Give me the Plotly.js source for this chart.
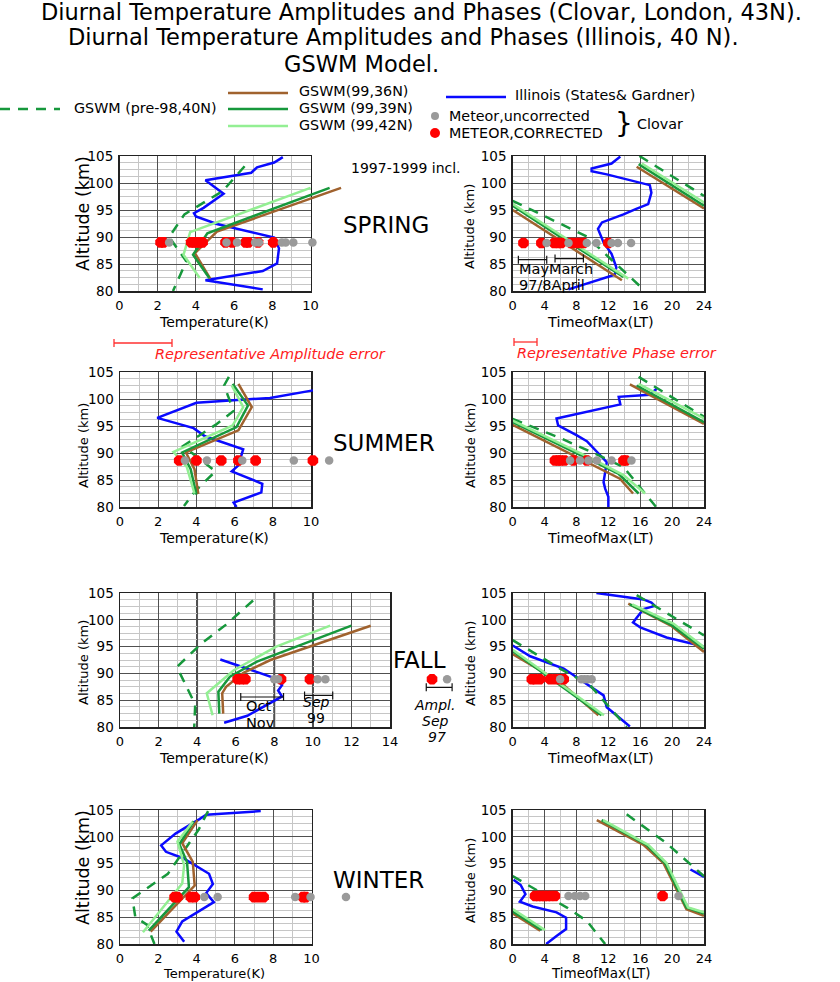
<!DOCTYPE html>
<html>
<head>
<meta charset="utf-8">
<script src="https://cdn.plot.ly/plotly-3.0.1.min.js"></script>
<style>
  html, body { margin: 0; padding: 0; background: #fff; }
  #chart { width: 840px; height: 982px; }
</style>
</head>
<body>
<div id="chart"></div>
<script>
// ---------- data: amplitude (K) / phase (h LT) versus altitude (km) ----------

// SPRING amplitude
const sprAmpBlueT = [8.55, 8.1, 7.2, 6.9, 4.5, 5.0, 5.45, 4.4, 3.9, 4.0, 5.1, 8.1, 8.35, 8.25, 7.5, 4.5, 7.5];
const sprAmpBlueZ = [104.8, 103.8, 102.9, 101.9, 100.5, 99.1, 98.0, 95.4, 94.4, 93.8, 92.4, 89.9, 87.9, 85.1, 83.7, 82.0, 80.3];
const sprAmpDashT = [6.55, 5.4, 3.4, 2.6, 3.5, 2.8];
const sprAmpDashZ = [103.1, 98.5, 94.2, 90.0, 85.5, 80.0];
const sprAmpBrownT = [11.6, 5.1, 3.95, 4.75];
const sprAmpBrownZ = [99.1, 91.0, 87.0, 82.3];
const sprAmpDkT = [11.0, 4.6, 3.85, 4.7];
const sprAmpDkZ = [99.1, 90.7, 86.7, 82.4];
const sprAmpLtT = [10.0, 3.7, 3.35, 4.2];
const sprAmpLtZ = [99.1, 90.9, 86.7, 82.4];
const sprAmpAlt = 89.0;
const sprAmpRed = [2.15, 2.3, 3.75, 3.9, 4.05, 4.2, 4.35, 5.55, 5.9, 6.6, 6.75, 7.25, 8.05];
const sprAmpGray = [2.6, 5.6, 6.15, 7.1, 7.3, 8.5, 8.7, 9.1, 10.1];

// SPRING phase
const sprPhBlueT = [13.5, 12.4, 9.9, 9.9, 11.8, 17.2, 17.4, 17.0, 15.5, 13.9, 11.2, 10.7, 11.4, 12.4, 13.0, 12.8, 7.0];
const sprPhBlueZ = [104.9, 103.6, 102.7, 102.2, 101.6, 99.6, 98.2, 96.1, 95.2, 94.2, 92.7, 91.5, 89.0, 86.9, 84.4, 83.0, 80.3];
const sprPhDashT = [0, 9.3, 11.8, 16.4, null, 15.9, 24];
const sprPhDashZ = [96.7, 90.1, 86.6, 80.3, null, 105, 97.6];
const sprPhBrownT = [0, 4.8, 13.7, null, 15.55, 24];
const sprPhBrownZ = [95.0, 90.5, 82.0, null, 103.0, 95.3];
const sprPhDkT = [0, 5.7, 13.9, null, 15.8, 24];
const sprPhDkZ = [95.8, 90.3, 82.6, null, 103.5, 95.8];
const sprPhLtT = [0, 5.9, 14.5, null, 16.2, 24];
const sprPhLtZ = [96.1, 90.5, 82.3, null, 103.6, 96.4];
const sprPhAlt = 88.9;
const sprPhRed = [1.35, 3.6, 5.2, 5.7, 6.1, 7.3, 7.9, 8.4, 8.9, 12.0];
const sprPhGray = [4.25, 7.0, 9.3, 10.5, 12.4, 13.2, 14.85];
const sprPhRangeMid = [2.49, 7.09];      // May, March
const sprPhRangeHalf = [1.78, 1.78];
const sprPhRangeZ = [85.8, 86.0];

// SUMMER amplitude
const sumAmpBlueT = [10.1, 7.85, 4.0, 1.95, 3.85, 4.45, 6.45, 6.2, 5.85, 7.45, 7.4, 5.95, 6.1];
const sumAmpBlueZ = [101.6, 100.2, 99.3, 96.5, 94.6, 93.1, 90.7, 87.7, 86.6, 84.3, 82.7, 80.8, 80.0];
const sumAmpDashT = [5.7, 5.45, 5.95, 5.0, 3.3, 4.0, 5.0, 3.95, 3.35];
const sumAmpDashZ = [104.1, 102.5, 97.8, 95.2, 91.3, 89.3, 86.6, 83.0, 80.2];
const sumAmpBrownT = [6.2, 6.9, 6.2, 3.45, 3.9, 4.1];
const sumAmpBrownZ = [102.8, 98.5, 94.2, 90.1, 87.0, 82.4];
const sumAmpDkT = [5.9, 6.7, 6.1, 3.25, 3.7, 4.0];
const sumAmpDkZ = [102.8, 98.8, 94.8, 90.1, 87.0, 82.3];
const sumAmpLtT = [5.85, 6.45, 5.9, 2.8, 3.5, 3.9];
const sumAmpLtZ = [102.5, 98.5, 95.1, 90.2, 87.4, 82.5];
const sumAmpAlt = 88.6;
const sumAmpRed = [3.1, 4.0, 5.3, 6.2, 7.1, 10.1];
const sumAmpGray = [3.4, 4.55, 6.4, 9.1, 10.95];

// SUMMER phase
const sumPhBlueT = [18.05, 17.2, 13.3, 13.5, 5.5, 5.7, 8.0, 9.3, 11.8, 11.4, 11.6, 12.0, 12.0];
const sumPhBlueZ = [101.9, 100.8, 100.4, 99.0, 96.4, 95.1, 93.3, 92.2, 88.3, 84.6, 83.4, 81.9, 80.0];
const sumPhDashT = [0, 5.9, 9.7, 13.9, 18.0, null, 15.8, 24];
const sumPhDashZ = [96.3, 92.8, 90.3, 87.4, 80.0, null, 104.1, 96.7];
const sumPhBrownT = [0, 9.7, 13.45, 15.1, null, 14.7, 24];
const sumPhBrownZ = [95.2, 88.0, 85.25, 82.5, null, 102.7, 95.4];
const sumPhDkT = [0, 9.9, 13.25, 15.8, null, 15.55, 24];
const sumPhDkZ = [95.7, 88.5, 86.2, 82.5, null, 102.5, 95.7];
const sumPhLtT = [0, 10.1, 13.9, 16.6, null, 15.8, 24];
const sumPhLtZ = [96.0, 88.8, 85.9, 82.5, null, 102.8, 96.4];
const sumPhAlt = 88.6;
const sumPhRed = [5.3, 5.7, 6.0, 6.5, 7.6, 9.3, 13.9, 14.2];
const sumPhGray = [7.2, 8.45, 9.5, 10.55, 12.4, 14.9];

// FALL amplitude
const falAmpBlueT = [5.2, 8.05, 8.4, 8.2, 8.4, 6.6, 5.4];
const falAmpBlueZ = [92.6, 89.1, 87.8, 86.8, 85.7, 82.1, 80.8];
const falAmpDashT = [6.9, 5.5, 4.2, 2.95, 3.9, 3.85];
const falAmpDashZ = [103.6, 99.1, 95.5, 91.2, 84.2, 80.0];
const falAmpBrownT = [13.0, 9.9, 7.8, 6.4, 5.5, 5.3, 5.35];
const falAmpBrownZ = [98.9, 95.0, 92.5, 90.1, 87.5, 86.3, 82.5];
const falAmpDkT = [12.0, 9.2, 7.1, 5.7, 5.1, 5.15];
const falAmpDkZ = [98.9, 95.0, 92.2, 89.4, 86.6, 82.5];
const falAmpLtT = [10.9, 8.1, 5.9, 4.5, 4.8];
const falAmpLtZ = [98.9, 95.0, 90.6, 86.3, 82.2];
const falAmpAlt = 88.9;
const falAmpRed = [6.1, 6.3, 6.5, 8.35, 9.85];
const falAmpGray = [8.0, 8.2, 10.25, 10.65];
const falAmpRangeMid = [7.37, 10.3];     // Oct-Nov, Sep 99
const falAmpRangeHalf = [1.11, 0.73];
const falAmpRangeZ = [85.6, 85.9];
const falKeyRed = [16.18];               // Ampl. Sep 97 key
const falKeyGray = [16.96];
const falKeyMid = [16.55];
const falKeyHalf = [0.67];
const falKeyZ = [87.4];
const falDarkGrid = [4, 8, 10];

// FALL phase
const falPhBlueT = [10.5, 16.4, 17.4, 17.85, 16.4, 15.55, 15.1, 16.0, 19.3, 24, null, 0, 2.2, 6.4, 8.9, 11.4, 11.8, 14.7];
const falPhBlueZ = [105, 103.8, 103.2, 102.6, 102.0, 100.4, 99.5, 98.6, 96.7, 95.0, null, 95.2, 93.2, 90.9, 88.4, 85.9, 83.7, 80.1];
const falPhDashT = [0, 5.95, 9.7, 14.3, null, 15.55, 24];
const falPhDashZ = [96.2, 90.9, 87.8, 80.0, null, 104.6, 97.1];
const falPhBrownT = [0, 5.95, 10.75, null, 14.5, 19.95, 24];
const falPhBrownZ = [93.6, 88.4, 82.2, null, 103.0, 98.8, 94.0];
const falPhDkT = [0, 11.15, null, 14.7, 19.95, 24];
const falPhDkZ = [94.2, 82.2, null, 102.9, 99.0, 94.6];
const falPhLtT = [0, 11.45, null, 15.0, 20.15, 24];
const falPhLtZ = [94.4, 82.2, null, 102.9, 99.3, 94.9];
const falPhAlt = 88.9;
const falPhRed = [2.4, 2.8, 3.4, 4.7, 5.3, 5.9, 6.4];
const falPhGray = [5.95, 8.6, 9.0, 9.4, 9.9];

// WINTER amplitude
const winAmpBlueT = [7.35, 4.5, 4.15, 2.9, 2.15, 2.4, 3.3, 4.65, 4.85, 4.5, 4.9, 4.2, 3.25, 2.95, 3.35];
const winAmpBlueZ = [104.8, 104.1, 103.3, 100.6, 98.4, 97.2, 96.0, 93.1, 91.2, 89.5, 87.8, 86.3, 84.2, 82.3, 80.4];
const winAmpDashT = [4.6, 4.1, 2.5, 0.65, 0.8, 1.4, 1.8];
const winAmpDashZ = [104.8, 101.3, 93.1, 88.5, 85.0, 83.6, 80.0];
const winAmpBrownT = [4.05, 3.25, 3.8, 3.9, 1.6];
const winAmpBrownZ = [103.1, 98.8, 95.3, 90.9, 82.3];
const winAmpDkT = [3.85, 3.1, 3.5, 3.6, 1.5];
const winAmpDkZ = [102.9, 98.6, 95.3, 90.6, 82.5];
const winAmpLtT = [3.8, 3.0, 3.35, 3.25, 1.2];
const winAmpLtZ = [102.8, 99.1, 94.7, 91.3, 82.2];
const winAmpAlt = 88.75;
const winAmpRed = [2.85, 3.0, 3.7, 3.9, 7.0, 7.25, 7.5, 9.55, 9.7];
const winAmpGray = [4.4, 5.1, 9.15, 9.95, 11.8];

// WINTER phase
const winPhBlueT = [22.3, 24, null, 0.1, 1.0, 1.6, 0.9, 2.5, 5.5, 6.7, 6.7, 5.5, 4.2];
const winPhBlueZ = [93.9, 92.5, null, 92.0, 91.0, 89.3, 87.9, 87.0, 85.9, 84.9, 82.8, 81.5, 80.0];
const winPhDashT = [14.3, 19.3, 24, null, 0, 6.8, 9.3, 11.6];
const winPhDashZ = [104.2, 98.8, 92.65, null, 92.65, 86.8, 84.3, 80.0];
const winPhBrownT = [0, 3.45, null, 10.55, 16.4, 18.9, 21.8, 24];
const winPhBrownZ = [85.7, 82.5, null, 103.1, 98.5, 95.1, 86.5, 85.25];
const winPhDkT = [0, 3.65, null, 11.15, 16.8, 19.1, 21.8, 24];
const winPhDkZ = [86.05, 82.6, null, 103.1, 98.5, 95.1, 86.8, 85.7];
const winPhLtT = [0, 4.05, null, 11.35, 17.0, 19.3, 22.0, 24];
const winPhLtZ = [86.5, 82.6, null, 103.1, 98.5, 95.1, 86.8, 85.9];
const winPhAlt = 88.95;
const winPhRed = [2.8, 3.2, 3.6, 4.0, 4.4, 4.8, 5.3, 18.8];
const winPhGray = [7.0, 7.8, 8.45, 9.1, 20.8];

// ---------- styling ----------
const W = 840, H = 982;
const FONT = 'DejaVu Sans, Verdana, sans-serif';
const C = {
    blue: '#0a0aff',
    brown: '#a0622e',
    dk: '#17983c',
    lt: '#93ef93',
    red: '#ff0000',
    gray: '#9a9a9a',
    major: '#505050',
    minor: '#c6c6c6'
};

const fx = px => px / W;
const fy = py => 1 - py / H;

// panel frames in pixels: rows (top, bottom), amplitude / phase columns
const rows = [[156, 291], [372, 507], [593, 727], [810, 944]];
const ampCols = [[119.5, 310.5, 10, 12.5], [120, 311, 10, 11.5], [120, 390, 14, 18], [120, 311.5, 10, 12.5]];
const phCol = [512.7, 704];

const layout = {
    width: W, height: H,
    margin: { l: 0, r: 0, t: 0, b: 0 },
    paper_bgcolor: '#ffffff',
    plot_bgcolor: 'rgba(0,0,0,0)',
    showlegend: false,
    font: { family: FONT, size: 13, color: '#000' },
    annotations: [],
    shapes: []
};

function visX(dom, range, dtick, minor, anchor) {
    return {
        domain: dom, range: range, anchor: anchor, tick0: 0, dtick: dtick,
        showline: true, mirror: true, linecolor: '#222', linewidth: 1.5,
        showgrid: true, gridcolor: C.major, gridwidth: 1, zeroline: false,
        ticks: '', ticklabelstandoff: 2, tickfont: { family: FONT, size: 13, color: '#000' },
        minor: { dtick: minor, tick0: 0, showgrid: true, gridcolor: C.minor, gridwidth: 1 },
        fixedrange: true
    };
}
function visY(dom, anchor) {
    return {
        domain: dom, range: [80, 105], anchor: anchor, tick0: 80, dtick: 5,
        showline: true, mirror: true, linecolor: '#222', linewidth: 1.5,
        showgrid: true, gridcolor: C.major, gridwidth: 1, zeroline: false,
        ticks: '', ticklabelstandoff: 2, tickfont: { family: FONT, size: 13.5, color: '#000' },
        minor: { dtick: 1.25, tick0: 80, showgrid: true, gridcolor: C.minor, gridwidth: 1 },
        fixedrange: true
    };
}
function hidden(dom, range, anchor) {
    return { domain: dom, range: range, anchor: anchor, visible: false, fixedrange: true };
}

const traces = [];

function lineTrace(x, y, xa, ya, color, dash) {
    return {
        type: 'scatter', mode: 'lines', x: x, y: y, xaxis: xa, yaxis: ya,
        line: { color: color, width: 2.5, dash: dash || 'solid' },
        connectgaps: false, hoverinfo: 'skip', cliponaxis: true
    };
}
function dotTrace(x, alt, xa, ya, color, size, symbol) {
    return {
        type: 'scatter', mode: 'markers', x: x, y: x.map(() => alt), xaxis: xa, yaxis: ya,
        marker: { color: color, size: size, symbol: symbol, line: { width: 0 } },
        cliponaxis: false, hoverinfo: 'skip'
    };
}
function rangeTrace(mid, half, z, xa, ya) {
    return {
        type: 'scatter', mode: 'markers', x: mid, y: z, xaxis: xa, yaxis: ya,
        marker: { size: 1, color: 'rgba(0,0,0,0)' },
        error_x: { type: 'data', array: half, symmetric: true, color: '#111', thickness: 1.2, width: 4 },
        cliponaxis: false, hoverinfo: 'skip'
    };
}
function addPanel(xa, ya, s) {
    traces.push(lineTrace(s.blue[0], s.blue[1], xa, ya, C.blue));
    traces.push(lineTrace(s.dash[0], s.dash[1], xa, ya, C.dk, '10px,8px'));
    traces.push(lineTrace(s.brown[0], s.brown[1], xa, ya, C.brown));
    traces.push(lineTrace(s.dk[0], s.dk[1], xa, ya, C.dk));
    traces.push(lineTrace(s.lt[0], s.lt[1], xa, ya, C.lt));
    traces.push(dotTrace(s.red, s.alt, xa, ya, C.red, 11.5, 'octagon'));
    traces.push(dotTrace(s.gray, s.alt, xa, ya, C.gray, 8.5, 'circle'));
}

// axis ids: amplitude panels use a visible frame (n) plus a wider hidden data axis (n+1)
const ampIds = [[1, 2], [4, 5], [7, 8], [10, 11]];
const phIds = [3, 6, 9, 12];
const axName = (k, n) => k + 'axis' + (n === 1 ? '' : n);
const axRef = (k, n) => k + (n === 1 ? '' : n);

rows.forEach((r, i) => {
    const yDom = [fy(r[1]), fy(r[0])];
    const [x0, x1, visMax, dataMax] = ampCols[i];
    const [v, d] = ampIds[i];
    layout[axName('x', v)] = visX([fx(x0), fx(x1)], [0, visMax], 2, 1, axRef('y', v));
    layout[axName('y', v)] = visY(yDom, axRef('x', v));
    const dataRight = x0 + (x1 - x0) / visMax * dataMax;
    layout[axName('x', d)] = hidden([fx(x0), fx(dataRight)], [0, dataMax], axRef('y', d));
    layout[axName('y', d)] = hidden(yDom, [80, 105], axRef('x', d));
    // empty trace so the frame subplot exists
    traces.push({ type: 'scatter', mode: 'markers', x: [null], y: [null], xaxis: axRef('x', v), yaxis: axRef('y', v), hoverinfo: 'skip' });

    const p = phIds[i];
    layout[axName('x', p)] = visX([fx(phCol[0]), fx(phCol[1])], [0, 24], 4, 2, axRef('y', p));
    layout[axName('y', p)] = visY(yDom, axRef('x', p));
});

// spring
addPanel('x2', 'y2', { blue: [sprAmpBlueT, sprAmpBlueZ], dash: [sprAmpDashT, sprAmpDashZ], brown: [sprAmpBrownT, sprAmpBrownZ], dk: [sprAmpDkT, sprAmpDkZ], lt: [sprAmpLtT, sprAmpLtZ], red: sprAmpRed, gray: sprAmpGray, alt: sprAmpAlt });
addPanel('x3', 'y3', { blue: [sprPhBlueT, sprPhBlueZ], dash: [sprPhDashT, sprPhDashZ], brown: [sprPhBrownT, sprPhBrownZ], dk: [sprPhDkT, sprPhDkZ], lt: [sprPhLtT, sprPhLtZ], red: sprPhRed, gray: sprPhGray, alt: sprPhAlt });
traces.push(rangeTrace(sprPhRangeMid, sprPhRangeHalf, sprPhRangeZ, 'x3', 'y3'));
// summer
addPanel('x5', 'y5', { blue: [sumAmpBlueT, sumAmpBlueZ], dash: [sumAmpDashT, sumAmpDashZ], brown: [sumAmpBrownT, sumAmpBrownZ], dk: [sumAmpDkT, sumAmpDkZ], lt: [sumAmpLtT, sumAmpLtZ], red: sumAmpRed, gray: sumAmpGray, alt: sumAmpAlt });
addPanel('x6', 'y6', { blue: [sumPhBlueT, sumPhBlueZ], dash: [sumPhDashT, sumPhDashZ], brown: [sumPhBrownT, sumPhBrownZ], dk: [sumPhDkT, sumPhDkZ], lt: [sumPhLtT, sumPhLtZ], red: sumPhRed, gray: sumPhGray, alt: sumPhAlt });
// fall
addPanel('x8', 'y8', { blue: [falAmpBlueT, falAmpBlueZ], dash: [falAmpDashT, falAmpDashZ], brown: [falAmpBrownT, falAmpBrownZ], dk: [falAmpDkT, falAmpDkZ], lt: [falAmpLtT, falAmpLtZ], red: falAmpRed, gray: falAmpGray, alt: falAmpAlt });
traces.push(rangeTrace(falAmpRangeMid, falAmpRangeHalf, falAmpRangeZ, 'x8', 'y8'));
traces.push(rangeTrace(falKeyMid, falKeyHalf, falKeyZ, 'x8', 'y8'));
traces.push(dotTrace(falKeyRed, falAmpAlt, 'x8', 'y8', C.red, 11.5, 'octagon'));
traces.push(dotTrace(falKeyGray, falAmpAlt, 'x8', 'y8', C.gray, 8.5, 'circle'));
addPanel('x9', 'y9', { blue: [falPhBlueT, falPhBlueZ], dash: [falPhDashT, falPhDashZ], brown: [falPhBrownT, falPhBrownZ], dk: [falPhDkT, falPhDkZ], lt: [falPhLtT, falPhLtZ], red: falPhRed, gray: falPhGray, alt: falPhAlt });
// winter
addPanel('x11', 'y11', { blue: [winAmpBlueT, winAmpBlueZ], dash: [winAmpDashT, winAmpDashZ], brown: [winAmpBrownT, winAmpBrownZ], dk: [winAmpDkT, winAmpDkZ], lt: [winAmpLtT, winAmpLtZ], red: winAmpRed, gray: winAmpGray, alt: winAmpAlt });
addPanel('x12', 'y12', { blue: [winPhBlueT, winPhBlueZ], dash: [winPhDashT, winPhDashZ], brown: [winPhBrownT, winPhBrownZ], dk: [winPhDkT, winPhDkZ], lt: [winPhLtT, winPhLtZ], red: winPhRed, gray: winPhGray, alt: winPhAlt });

traces.forEach(t => { t.showlegend = false; });

// darker grid lines in the fall amplitude frame
falDarkGrid.forEach(v => layout.shapes.push({
    type: 'line', xref: 'x7', yref: 'y7 domain', x0: v, x1: v, y0: 0, y1: 1,
    line: { color: '#1a1a1a', width: 1.8 }, layer: 'below'
}));

// ---------- text ----------
function txt(text, px, py, size, opt) {
    opt = opt || {};
    layout.annotations.push({
        text: text, xref: 'paper', yref: 'paper', x: fx(px), y: fy(py),
        xanchor: opt.anchor || 'center', yanchor: 'middle', showarrow: false,
        textangle: opt.angle || 0, borderpad: 0,
        font: { family: FONT, size: size, color: opt.color || '#000', style: opt.italic ? 'italic' : 'normal' }
    });
}
function pline(x0, y0, x1, y1, color, width, dash) {
    layout.shapes.push({
        type: 'line', xref: 'paper', yref: 'paper', x0: fx(x0), x1: fx(x1), y0: fy(y0), y1: fy(y1),
        line: { color: color, width: width, dash: dash || 'solid' }
    });
}
function pbar(x0, x1, y, color) {
    pline(x0, y, x1, y, color, 1.3);
    pline(x0, y - 4, x0, y + 4, color, 1.3);
    pline(x1, y - 4, x1, y + 4, color, 1.3);
}
function pdot(cx, cy, r, color) {
    layout.shapes.push({
        type: 'circle', xref: 'paper', yref: 'paper',
        x0: fx(cx - r), x1: fx(cx + r), y0: fy(cy + r), y1: fy(cy - r),
        fillcolor: color, line: { width: 0 }
    });
}

// titles
txt('Diurnal Temperature Amplitudes and Phases (Clovar, London, 43N).', 40, 12.5, 22.5, { anchor: 'left' });
txt('Diurnal Temperature Amplitudes and Phases (Illinois, 40 N).', 67, 37.5, 22.5, { anchor: 'left' });
txt('GSWM Model.', 283, 63.5, 22.5, { anchor: 'left' });

// legend
pline(0, 109, 60, 109, C.dk, 2.5, '10px,8px');
txt('GSWM (pre-98,40N)', 73, 108, 14.3, { anchor: 'left' });
pline(228, 93, 288, 93, C.brown, 2.5);
txt('GSWM(99,36N)', 298, 91, 14.3, { anchor: 'left' });
pline(228, 109, 288, 109, C.dk, 2.5);
txt('GSWM (99,39N)', 298, 108, 14.3, { anchor: 'left' });
pline(228, 126, 288, 126, C.lt, 2.5);
txt('GSWM (99,42N)', 298, 125, 14.3, { anchor: 'left' });
pline(446, 97, 506, 97, C.blue, 2.5);
txt('Illinois (States& Gardner)', 514, 95, 14.3, { anchor: 'left' });
pdot(435, 116, 4, C.gray);
txt('Meteor,uncorrected', 448, 116, 14.3, { anchor: 'left' });
pdot(435, 133, 5, C.red);
txt('METEOR,CORRECTED', 448, 133, 14.3, { anchor: 'left' });
txt('}', 624, 123, 28);
txt('Clovar', 636, 124, 14.3, { anchor: 'left' });

// season labels and notes
txt('1997-1999 incl.', 406, 168, 14);
txt('SPRING', 386, 225, 23);
txt('SUMMER', 384, 443, 23);
txt('FALL', 419, 660, 23);
txt('WINTER', 378, 880, 23);

pbar(114, 172, 343, '#ff3030');
txt('Representative Amplitude error', 270, 354, 14.5, { color: '#ff2020', italic: true });
pbar(514, 537, 342, '#ff3030');
txt('Representative Phase error', 617, 353, 14.5, { color: '#ff2020', italic: true });

txt('MayMarch', 518, 269, 14.5, { anchor: 'left' });
txt('97/8April', 518, 285, 14.5, { anchor: 'left' });
txt('Oct', 258, 706, 14.5);
txt('Nov', 260, 723, 14.5);
txt('Sep', 316, 702, 14, { italic: true });
txt('99', 316, 718, 14);
txt('Ampl.', 434, 705, 14, { italic: true });
txt('Sep', 435, 721, 14, { italic: true });
txt('97', 437, 737, 14, { italic: true });

// axis titles
const ampTitleSize = [17.5, 13, 13, 17.5];
const ampTitleY = [214, 446, 663, 868];
const phTitleY = [227, 446, 664, 881];
const xTitleY = [322, 538, 758, 973];
const xTitleSize = [14, 14, 14, 13];
rows.forEach((r, i) => {
    txt('Altitude (km)', 83, ampTitleY[i], ampTitleSize[i], { angle: -90 });
    txt('Altitude (km)', 470, phTitleY[i], 13, { angle: -90 });
    txt('Temperature(K)', 214, xTitleY[i], xTitleSize[i]);
    txt('TimeofMax(LT)', 600, xTitleY[i], xTitleSize[i] + 0.5);
});

Plotly.newPlot('chart', traces, layout, { displayModeBar: false, staticPlot: true });
</script>
</body>
</html>
